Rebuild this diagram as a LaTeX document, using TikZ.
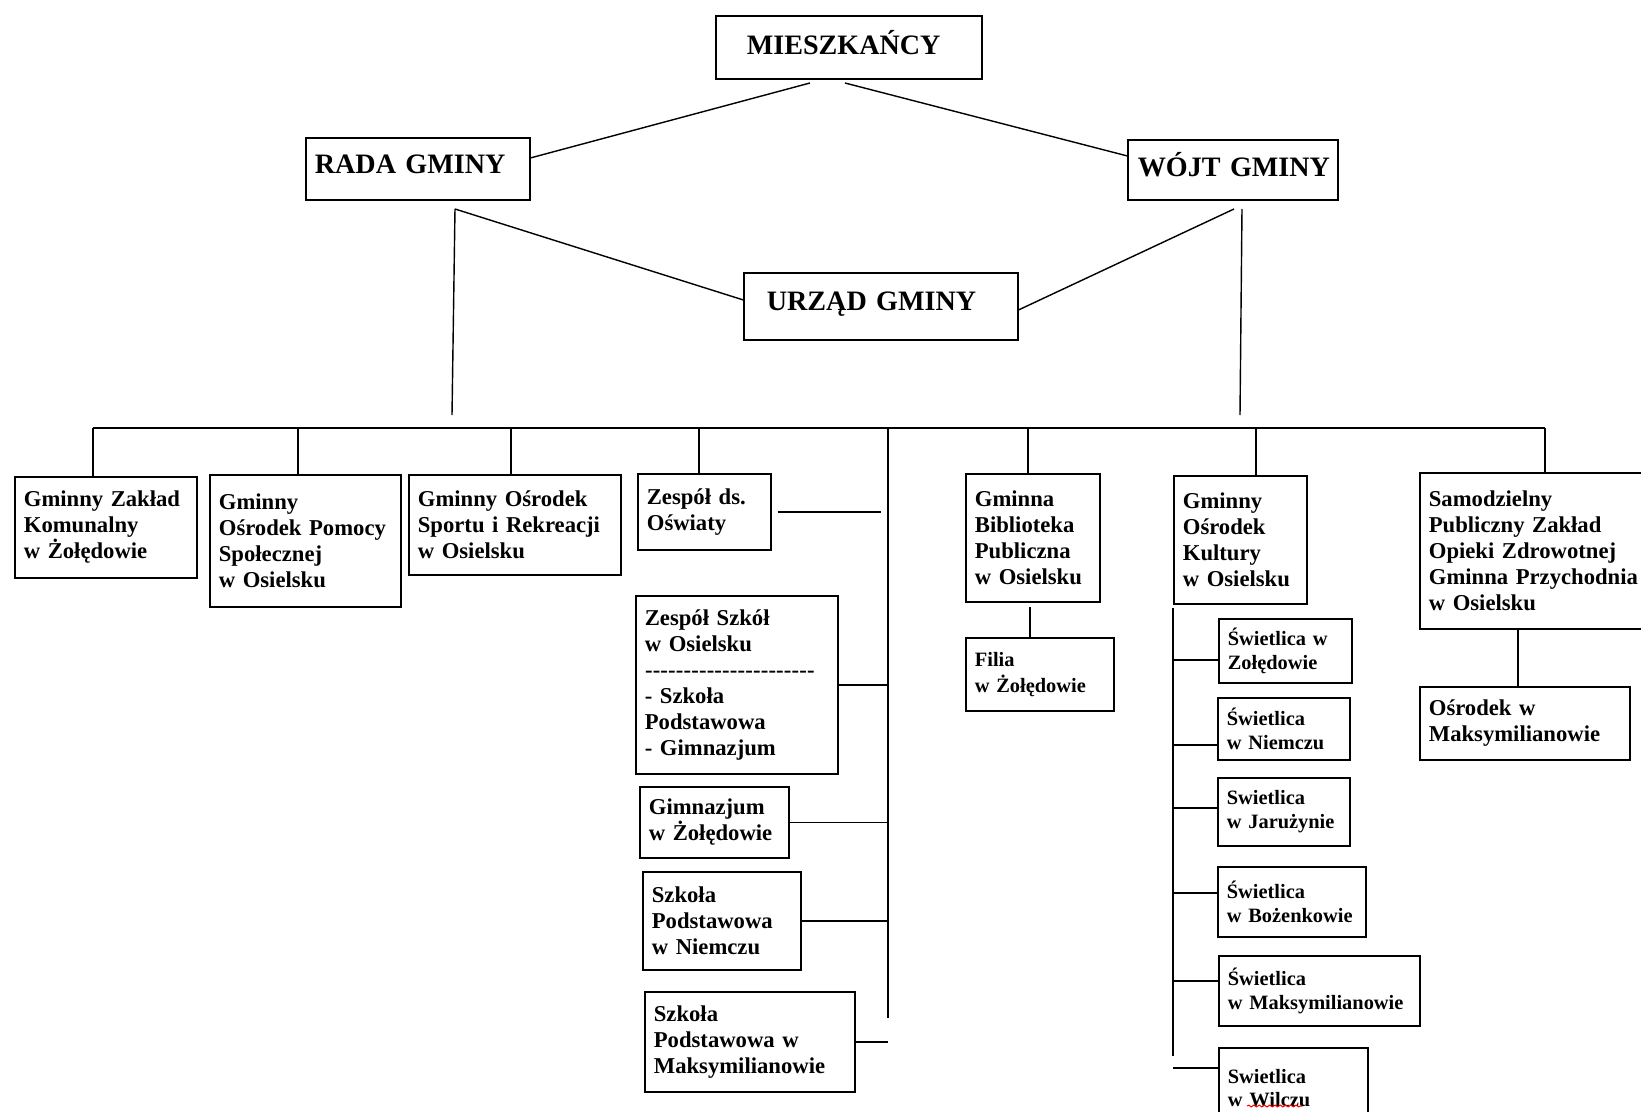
\documentclass[tikz,border=0pt]{standalone}
\usepackage{fontspec}
\setmainfont{Liberation Serif}
\usetikzlibrary{decorations.pathmorphing}
\newcommand\unitfont{\fontsize{12.9}{14.8}\selectfont\bfseries\hyphenpenalty=10000\relax}
\newcommand\roomfont{\fontsize{11.6}{13.4}\selectfont\bfseries\hyphenpenalty=10000\relax}
\newcommand\headfont{\fontsize{16}{19}\selectfont\bfseries\hyphenpenalty=10000\relax}
\newcommand\schooldashes{\leavevmode\hbox to 3.4cm{\xleaders\hbox{-}\hfill}}

\begin{document}
\begin{tikzpicture}[x=0.02cm,y=-0.02cm,unit/.style={draw,line width=1pt,anchor=north west,align=left,inner xsep=.18cm,inner ysep=0pt,font=\unitfont},head/.style={unit,font=\headfont,text depth=.2cm},room/.style={unit,font=\roomfont},link/.style={line width=.8pt},squiggle/.style={red,line width=.6pt,decorate,decoration={snake,amplitude=.5pt,segment length=3pt}}]
\useasboundingbox (0,0) rectangle (1641,1112);
\clip (0,0) rectangle (1641,1112);
\node[head,inner xsep=.62cm,text width=4.08cm,minimum height=1.26cm] (miesz) at (715,15) {MIESZKAŃCY};
\node[head,text width=4.12cm,minimum height=1.24cm] (rada) at (305,137) {RADA~GMINY};
\node[head,inner xsep=.2cm,text width=3.8cm,minimum height=1.2cm] (wojt) at (1127,139) {WÓJT~GMINY};
\node[head,inner xsep=.46cm,text width=4.56cm,minimum height=1.34cm] (urzad) at (743,272) {URZĄD~GMINY};
\coordinate (mL) at (810,83); \coordinate (mR) at (845,83);
\coordinate (rB) at (455,209); \coordinate (rE) at (452,415);
\coordinate (wB) at (1234,209); \coordinate (wC) at (1242,209); \coordinate (wE) at (1240,415);
\draw[link] (mL) -- ([yshift=.22cm]rada.east);
\draw[link] (mR) -- ([yshift=.28cm]wojt.west);
\draw[link] (rB) -- ([yshift=.13cm]urzad.west);
\draw[link] (wB) -- ([yshift=-.07cm]urzad.east);
\draw[link] (rB) -- (rE);
\draw[link] (wC) -- (wE);
\node[unit,text width=3.28cm,minimum height=2.02cm] (zgk) at (14,476) {Gminny~Zakład\\Komunalny\\w~Żołędowie};
\node[unit,text width=3.46cm,minimum height=2.64cm] (gops) at (209,474) {Gminny\\Ośrodek~Pomocy\\Społecznej\\w~Osielsku};
\node[unit,text width=3.88cm,minimum height=2cm] (gosir) at (408,474) {Gminny~Ośrodek\\Sportu~i~Rekreacji\\w~Osielsku};
\node[unit,text width=2.3cm,minimum height=1.52cm] (zdso) at (637,473) {Zespół~ds.\\Oświaty};
\node[unit,text width=3.68cm,minimum height=3.56cm] (zs) at (635,595) {Zespół~Szkół\\w~Osielsku\\\schooldashes\\- Szkoła\\Podstawowa\\- Gimnazjum};
\node[unit,text width=2.62cm,minimum height=1.42cm] (gimz) at (639,786) {Gimnazjum\\w~Żołędowie};
\node[unit,text width=2.8cm,minimum height=1.96cm] (spn) at (642,871) {Szkoła\\Podstawowa\\w~Niemczu};
\node[unit,text width=3.84cm,minimum height=2cm] (spm) at (644,991) {Szkoła\\Podstawowa~w\\Maksymilianowie};
\node[unit,text width=2.32cm,minimum height=2.56cm] (gbp) at (965,473) {Gminna\\Biblioteka\\Publiczna\\w~Osielsku};
\node[unit,font=\fontsize{11.6}{14.8}\selectfont\bfseries,text width=2.6cm,minimum height=1.46cm] (filia) at (965,637) {Filia\\w~Żołędowie};
\node[unit,text width=2.3cm,minimum height=2.56cm] (gok) at (1173,475) {Gminny\\Ośrodek\\Kultury\\w~Osielsku};
\node[room,text width=2.3cm,minimum height=1.28cm] (sw1) at (1218,618) {Świetlica~w\\Zołędowie};
\node[room,text width=2.28cm,minimum height=1.24cm] (sw2) at (1217,697) {Świetlica\\w~Niemczu};
\node[room,text width=2.28cm,minimum height=1.36cm] (sw3) at (1217,777) {Swietlica\\w~Jarużynie};
\node[room,text width=2.6cm,minimum height=1.4cm] (sw4) at (1217,866) {Świetlica\\w~Bożenkowie};
\node[room,text width=3.66cm,minimum height=1.4cm] (sw5) at (1218,955) {Świetlica\\w~Maksymilianowie};
\node[room,text width=2.62cm,minimum height=1.6cm] (sw6) at (1218,1047) {Swietlica\\w~Wilczu};
\node[unit,text width=4.34cm,minimum height=3.12cm] (spzoz) at (1419,472) {Samodzielny\\Publiczny~Zakład\\Opieki~Zdrowotnej\\Gminna~Przychodnia\\w~Osielsku};
\node[unit,text width=3.84cm,minimum height=1.46cm] (osr) at (1419,686) {Ośrodek~w\\Maksymilianowie};
\foreach \n/\x in {1/93,2/298,3/511,4/699,5/888,6/1028,7/1256,8/1545} \coordinate (b\n) at (\x,428);
\coordinate (bEnd) at (888,1018);
\draw[link] (b1) -- (b8);
\draw[link] (b5) -- (bEnd);
\foreach \n/\u in {1/zgk,2/gops,3/gosir,4/zdso,6/gbp,7/gok,8/spzoz} \draw[link] (b\n) -- (b\n |- \u.north);
\draw[link] ([xshift=.12cm]zdso.east) -- ++(103,0);
\foreach \u in {zs,gimz,spn,spm} \draw[link] (\u.east) -- (\u.east -| b5);
\coordinate (fa) at (1030,607);
\draw[link] (fa) -- (fa |- filia.north);
\coordinate (gT) at (1173,608); \coordinate (gE) at (1173,1056);
\draw[link] (gT) -- (gE);
\foreach \u/\y in {sw1/660,sw2/745,sw3/808,sw4/893,sw5/981,sw6/1068} {\coordinate (g\u) at (1173,\y); \draw[link] (g\u) -- (g\u -| \u.west);}
\coordinate (sa) at (1518,630);
\draw[link] (sa) -- (sa |- osr.north);
\draw[squiggle] (1247,1106) -- (1302,1106);
\end{tikzpicture}
\end{document}
